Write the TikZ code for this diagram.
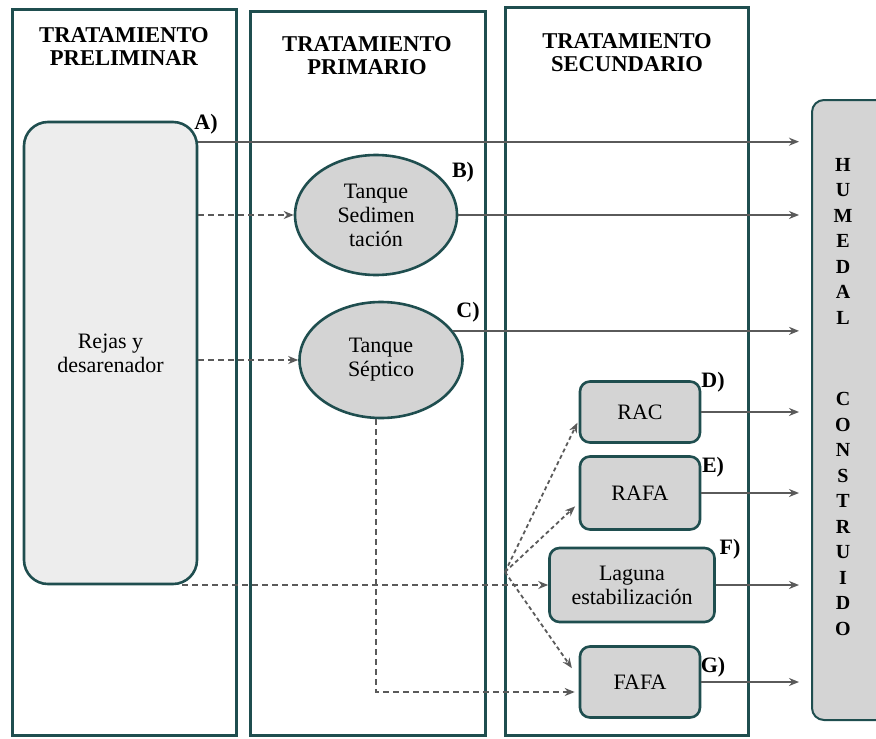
\documentclass[tikz,border=0pt]{standalone}
\usepackage{fontspec}
\setmainfont{Liberation Serif}
\usetikzlibrary{positioning,arrows.meta,fit,calc,shapes.geometric}
\definecolor{cteal}{HTML}{1F4E4F}
\definecolor{cgray}{HTML}{5A5A5A}
\definecolor{cfill}{HTML}{D4D4D4}
\definecolor{cpale}{HTML}{EDEDED}

\begin{document}
\begin{tikzpicture}[x=0.5pt, y=-0.5pt, font=\fontsize{11}{12}\selectfont,
  col/.style={draw=cteal, line width=1.5pt, fill=white, inner sep=0pt},
  head/.style={align=center, font=\fontsize{11.3}{11.5}\selectfont\bfseries},
  box/.style={draw=cteal, line width=1.3pt, fill=cfill, rounded corners=5pt, inner sep=2pt, align=center},
  tank/.style={ellipse, draw=cteal, line width=1.3pt, fill=cfill, inner sep=0pt, align=center},
  tag/.style={font=\fontsize{11}{12}\selectfont\bfseries},
  arr/.style={-{Stealth[length=5pt,width=4pt]}, cgray, line width=0.9pt},
  darr/.style={arr, dash pattern=on 3pt off 2pt}]
\useasboundingbox (0,0) rectangle (876,738);

% ---- the three stage columns (pixel units, y down)
\node[col, fit={(12,10) (236,735)}]  (cpre) {};
\node[col, fit={(250,12) (485,735)}] (cpri) {};
\node[col, fit={(505,8) (748,735)}]  (csec) {};
\node[head] (hpre) at (124,47)   {TRATAMIENTO\\PRELIMINAR};
\node[head] (hpri) at (367,56)   {TRATAMIENTO\\PRIMARIO};
\node[head] (hsec) at (627,53)   {TRATAMIENTO\\SECUNDARIO};

% ---- wetland at the right edge
\node[box, fill=cfill, line width=1pt, rounded corners=6pt,
  minimum width=39pt, minimum height=310pt] (hum) at (851,410) {};
\node[font=\fontsize{10}{12.75}\selectfont\bfseries, align=center] (humtxt) at (843,397)
  {H\\U\\M\\E\\D\\A\\L\\[28pt]C\\O\\N\\S\\T\\R\\U\\I\\D\\O};

% ---- treatment units
\node[box, fill=cpale, rounded corners=12pt, minimum width=86.5pt, minimum height=231pt]
  (rej) at (110.5,353) {Rejas y\\desarenador};
\node[tank, minimum width=81pt, minimum height=60pt] (sed) at (376,215) {Tanque\\Sedimen\\tación};
\node[tank, minimum width=81.5pt, minimum height=58pt] (sep) at (381,360) {Tanque\\Séptico};
\node[box, minimum width=60pt, minimum height=30.5pt] (rac)  at (640,412) {RAC};
\node[box, minimum width=60pt, minimum height=36.5pt] (rafa) at (640,493) {RAFA};
\node[box, minimum width=82.5pt, minimum height=37pt] (lag)  at (632,585) {Laguna\\estabilización};
\node[box, minimum width=60pt, minimum height=35.5pt] (fafa) at (640,682) {FAFA};

% ---- letters
\node[tag] (tA) at (206,124) {A)};
\node[tag] (tB) at (463,172) {B)};
\node[tag] (tC) at (468,312) {C)};
\node[tag] (tD) at (713,382) {D)};
\node[tag] (tE) at (713,467) {E)};
\node[tag] (tF) at (730,549) {F)};
\node[tag] (tG) at (713,667) {G)};

\coordinate (hub) at (505,572);

% ---- flows into the wetland
\draw[arr, shorten >=6pt] ([yshift=-10.5pt]rej.north east) -- ([yshift=-10.5pt]rej.north east -| hum.west);
\draw[arr, shorten >=6pt] (sed.east) -- (sed.east -| hum.west);
\draw[arr, shorten >=6pt] (sep.22) -- (sep.22 -| hum.west);
\draw[arr, shorten >=6pt] (rac.east) -- (rac.east -| hum.west);
\draw[arr, shorten >=6pt] (rafa.east) -- (rafa.east -| hum.west);
\draw[arr, shorten >=6pt] (lag.east) -- (lag.east -| hum.west);
\draw[arr, shorten >=6pt] (fafa.east) -- (fafa.east -| hum.west);

% ---- dashed links between stages
\draw[darr] (rej.east |- sed.west) -- (sed.west);
\draw[darr] (rej.east |- sep.west) -- (sep.west);
\draw[darr] ([xshift=-8pt]rej.east |- lag.west) -- (lag.west);
\draw[darr] ([xshift=-2.5pt]sep.south) |- ([yshift=-5pt,xshift=-2pt]fafa.west);
\draw[darr, dash pattern=on 2pt off 1.5pt, shorten >=1.5pt] (hub) -- ([yshift=-4pt]rac.west);
\draw[darr, dash pattern=on 2pt off 1.5pt, shorten >=2.5pt] (hub) -- ([yshift=-5pt]rafa.west);
\draw[darr, dash pattern=on 2pt off 1.5pt, shorten >=6pt] (hub) -- ([yshift=2pt]fafa.west);
\end{tikzpicture}
\end{document}
